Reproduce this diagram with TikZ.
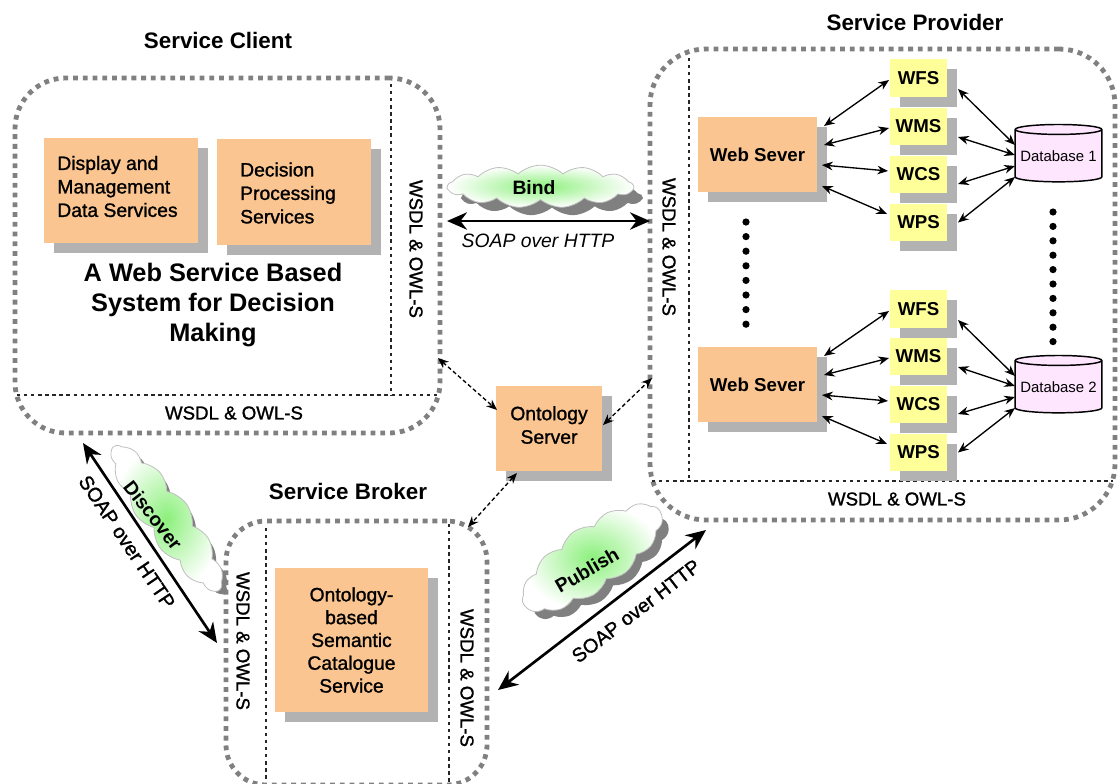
\documentclass[tikz,border=0pt]{standalone}
\usepackage{fontspec}
\setmainfont{Liberation Sans}
\newfontfamily\semibold[FakeBold=1.2]{Liberation Sans}
\usetikzlibrary{shapes.geometric,shapes.symbols,shadows,arrows.meta}
\definecolor{orangebox}{HTML}{FAC590}
\definecolor{yellowbox}{HTML}{FFFF99}
\definecolor{pinkdb}{HTML}{FFE6FF}
\definecolor{shadowgray}{HTML}{B2B2B2}
\definecolor{dotgray}{HTML}{808080}
\definecolor{cloudgreen}{HTML}{8CF07C}
\newcommand{\rect}[7]{% name x1 y1 x2 y2 style text
  \pgfmathsetmacro{\cxx}{(#2+#4)/2}\pgfmathsetmacro{\cyy}{(#3+#5)/2}
  \pgfmathsetmacro{\wdd}{(#4-#2)*0.75}\pgfmathsetmacro{\htt}{(#5-#3)*0.75}
  \node[#6,minimum width=\wdd pt,minimum height=\htt pt] (#1) at (\cxx,\cyy) {#7};}
\tikzset{
  x=0.75pt,y=-0.75pt,
  base/.style={inner sep=0pt,outer sep=0pt},
  shadowed/.style={drop shadow={shadow xshift=7.5pt,shadow yshift=-7.5pt,fill=shadowgray,opacity=1}},
  orangenode/.style={base,fill=orangebox,shadowed,align=center,font=\fontsize{14.5}{17.1}\selectfont\semibold},
  boxtext/.style={base,font=\fontsize{14.5}{17.6}\selectfont\semibold,align=left},
  service/.style={base,fill=yellowbox,shadowed,font=\fontsize{14}{17}\selectfont\bfseries},
  webserver/.style={base,fill=orangebox,shadowed,font=\fontsize{14}{17}\selectfont\bfseries},
  database/.style={base,cylinder,shape border rotate=90,aspect=0.13,draw=black,line width=1.1pt,cylinder uses custom fill,cylinder body fill=pinkdb,cylinder end fill=pinkdb,font=\fontsize{11.2}{13}\selectfont},
  container/.style={base,draw=dotgray,line width=3.6pt,dash pattern=on 3.6pt off 3.7pt},
  divider/.style={draw=black!85,line width=1pt,dash pattern=on 2.5pt off 2.8pt},
  wsdl/.style={font=\fontsize{14}{17}\selectfont\semibold,inner sep=0pt},
  heading/.style={font=\fontsize{16.8}{20}\selectfont\bfseries,inner sep=0pt},
  soap/.style={font=\fontsize{14.8}{17}\selectfont\semibold,inner sep=0pt},
  thin link/.style={line width=1pt,{Stealth[length=8pt,width=6.5pt]}-{Stealth[length=8pt,width=6.5pt]}},
  thick link/.style={line width=2pt,{Stealth[length=15pt,width=13pt]}-{Stealth[length=15pt,width=13pt]}},
  dash link/.style={line width=1pt,dash pattern=on 3pt off 2pt,{Stealth[length=8pt,width=6.5pt]}-{Stealth[length=8pt,width=6.5pt]}},
  puff/.style={cloud,base,cloud puffs=13,cloud puff arc=85,cloud ignores aspect,draw=black!25,line width=.6pt,inner color=cloudgreen,outer color=white},
  puffshadow/.style={cloud,base,cloud puffs=13,cloud puff arc=85,cloud ignores aspect,fill=black!50},
  cloudtext/.style={base,font=\fontsize{14.5}{17}\selectfont\bfseries},
  bigdot/.style={circle,fill=black,minimum size=5.4pt,base},
}
\begin{document}
\begin{tikzpicture}
\useasboundingbox (0,0) rectangle (1120,783);
\fill[white] (0,0) rectangle (1120,783);

% containers
\rect{client}{15}{78}{440}{433}{container,rounded corners=38pt}{}
\rect{provider}{650}{49}{1115}{520}{container,rounded corners=42pt}{}
\rect{broker}{226}{521}{487}{785}{container,rounded corners=30pt}{}

% headings
\node[heading] (hclient) at (218,40) {Service Client};
\node[heading] (hprovider) at (915,22) {Service Provider};
\node[heading] (hbroker) at (348,491) {Service Broker};

% client
\coordinate (c1) at (391,84); \coordinate (c2) at (391,395);
\coordinate (c3) at (17,395); \coordinate (c4) at (438,395);
\draw[divider] (c1) -- (c2); \draw[divider] (c3) -- (c4);
\rect{display}{44}{138}{198}{243}{orangenode}{}
\node[boxtext] (displaytext) at (117.5,186.5) {Display and\\Management\\Data Services};
\rect{decision}{217}{139}{371}{245}{orangenode}{}
\node[boxtext] (decisiontext) at (288,193) {Decision\\Processing\\Services};
\node[font=\fontsize{19}{22.5}\selectfont\bfseries,align=center,inner sep=0pt] (title) at (213,305) {A Web Service Based\\System for Decision\\Making};
\node[wsdl,rotate=-90] (w1) at (416,249) {WSDL \& OWL-S};
\node[wsdl] (w2) at (234,413) {WSDL \& OWL-S};

% provider
\coordinate (p1) at (689,58); \coordinate (p2) at (689,481);
\coordinate (p3) at (652,481); \coordinate (p4) at (1113,481);
\draw[divider] (p1) -- (p2); \draw[divider] (p3) -- (p4);
\node[wsdl,rotate=-90] (w3) at (669,247) {WSDL \& OWL-S};
\node[wsdl] (w4) at (897,499) {WSDL \& OWL-S};

\rect{wsa}{698}{117}{817}{192}{webserver}{Web Sever}
\rect{wfsa}{890}{59}{947}{97}{service}{WFS}
\rect{wmsa}{890}{108}{947}{145}{service}{WMS}
\rect{wcsa}{890}{156}{947}{193}{service}{WCS}
\rect{wpsa}{890}{204}{947}{241}{service}{WPS}
\rect{wsb}{698}{347}{817}{422}{webserver}{Web Sever}
\rect{wfsb}{890}{290}{947}{328}{service}{WFS}
\rect{wmsb}{890}{338}{947}{375}{service}{WMS}
\rect{wcsb}{890}{386}{947}{423}{service}{WCS}
\rect{wpsb}{890}{434}{947}{471}{service}{WPS}
\node[database,minimum width=65pt,minimum height=43pt] (dba) at (1058.5,156) {Database 1};
\node[database,minimum width=65pt,minimum height=43pt] (dbb) at (1058.5,387) {Database 2};

\foreach \w/\f/\m/\c/\p/\d in {wsa/wfsa/wmsa/wcsa/wpsa/dba,wsb/wfsb/wmsb/wcsb/wpsb/dbb}{
  \draw[thin link] ([shift={(7,9)}]\w.north east) -- ([shift={(-1,2)}]\f.west);
  \draw[thin link] ([shift={(7,28)}]\w.north east) -- ([shift={(-1,1.5)}]\m.west);
  \draw[thin link] ([shift={(5,48)}]\w.north east) -- ([shift={(-2,-3.5)}]\c.west);
  \draw[thin link] ([shift={(5,69)}]\w.north east) -- ([shift={(-3,-8.5)}]\p.west);
  \draw[thin link] ([shift={(11,11)}]\f.east) -- ([shift={(-43.5,-11)}]\d.center);
  \draw[thin link] ([shift={(11,10.5)}]\m.east) -- ([shift={(-43.5,-1)}]\d.center);
  \draw[thin link] ([shift={(11,9.5)}]\c.east) -- ([shift={(-43.5,10)}]\d.center);
  \draw[thin link] ([shift={(11,0)}]\p.east) -- ([shift={(-43.5,21)}]\d.center);
}
\foreach \i in {0,...,7}{\node[bigdot] (da\i) at (746,222+14.6*\i) {};}
\foreach \i in {0,...,9}{\node[bigdot] (db\i) at (1053,212+14.4*\i) {};}

% ontology server
\rect{onto}{496}{386}{602}{471}{orangenode}{}
\node[boxtext,align=center] (ontotext) at (549,425) {Ontology\\Server};
\draw[dash link] ([shift={(-2,-75)}]client.south east) -- ([shift={(1,-18.5)}]onto.west);
\draw[dash link] ([shift={(1,-3.5)}]onto.east) -- ([shift={(2,93.5)}]provider.west);
\draw[dash link] ([shift={(21,2)}]onto.south west) -- ([shift={(-19,6)}]broker.north east);

% broker
\coordinate (b1) at (266,528); \coordinate (b2) at (266,782);
\coordinate (b3) at (449,524); \coordinate (b4) at (449,782);
\draw[divider] (b1) -- (b2); \draw[divider] (b3) -- (b4);
\rect{catalogue}{275}{568}{428}{712}{orangenode}{Ontology-\\based\\Semantic\\Catalogue\\Service}
\node[wsdl,rotate=-90] (w5) at (243,641) {WSDL \& OWL-S};
\node[wsdl,rotate=-90] (w6) at (467,678) {WSDL \& OWL-S};

% bind
\node[puffshadow,minimum width=135pt,minimum height=28pt] (bindshadow) at (552,197) {};
\node[puff,minimum width=139pt,minimum height=32pt] (bind) at (540.5,186.5) {};
\node[cloudtext] (bindtext) at (534,188) {Bind};
\coordinate (bl) at (447,221); \coordinate (br) at (650,221);
\draw[thick link] (bl) -- (br);
\node[font=\fontsize{14.5}{17}\selectfont\itshape,inner sep=0pt] (soapbind) at (538,241) {SOAP over HTTP};

% discover
\node[puffshadow,rotate=-53.7,minimum width=130pt,minimum height=30pt] (discshadow) at (174,523) {};
\node[puff,rotate=-53.7,minimum width=133pt,minimum height=36pt] (discover) at (167,518) {};
\node[cloudtext,rotate=-52] (disctext) at (153,515) {Discover};
\coordinate (dl) at (83,443); \coordinate (dr) at (217,643);
\draw[thick link] (dl) -- (dr);
\node[soap,rotate=-56] (soapdisc) at (127,542) {SOAP over HTTP};

% publish
\node[puffshadow,rotate=35,minimum width=120pt,minimum height=42pt] (pubshadow) at (601,568) {};
\node[puff,rotate=35,minimum width=124pt,minimum height=48pt] (publish) at (592,558) {};
\node[cloudtext,rotate=30] (pubtext) at (587,570) {Publish};
\coordinate (pl) at (498,690); \coordinate (pr) at (706,530);
\draw[thick link] (pl) -- (pr);
\node[soap,rotate=37.5] (soappub) at (636,611) {SOAP over HTTP};
\end{tikzpicture}
\end{document}
